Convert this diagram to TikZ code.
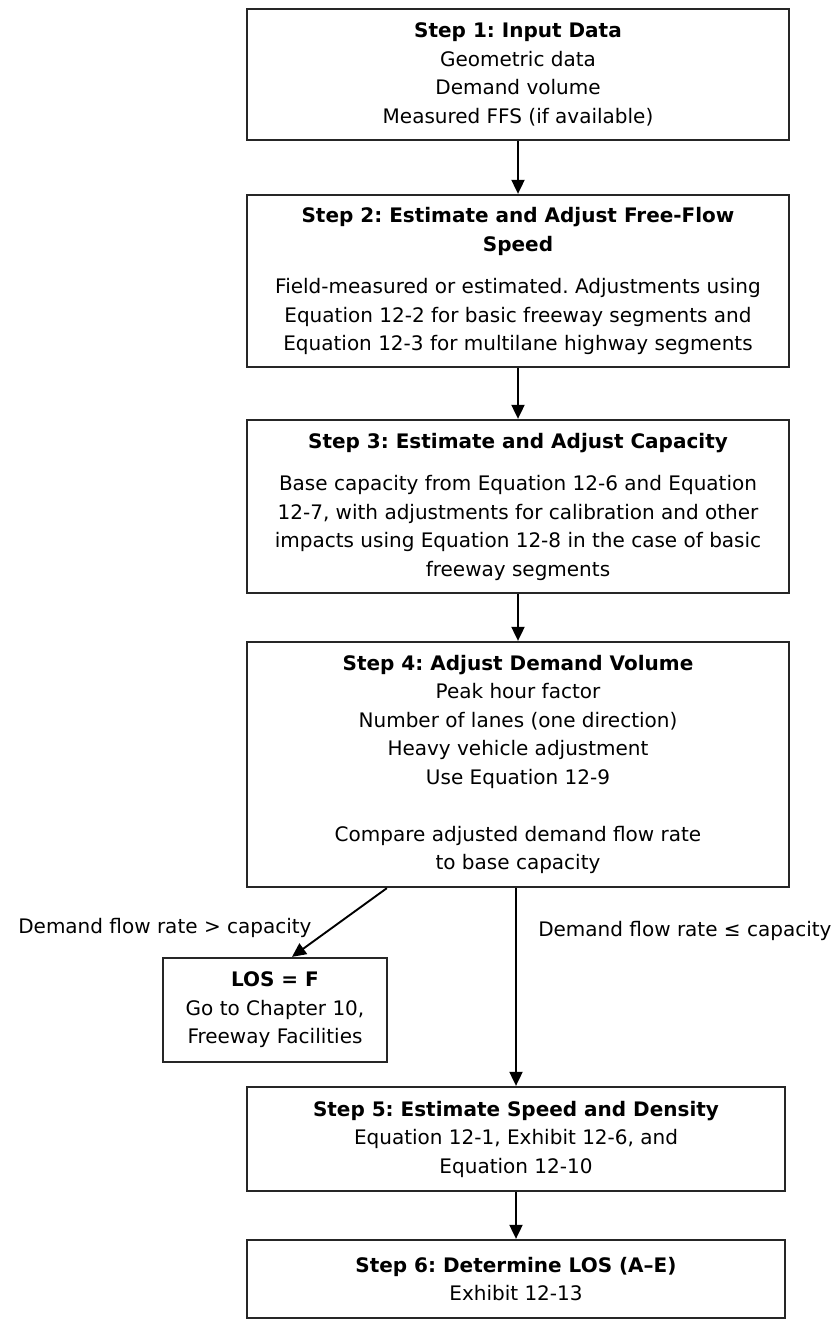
\documentclass[tikz,border=0pt]{standalone}
\usepackage{fontspec}
\setmainfont{DejaVu Sans}
\usetikzlibrary{shapes,arrows,arrows.meta,positioning,calc}
\frenchspacing

\begin{document}
\begin{tikzpicture}[
    x=1pt, y=-1pt,
    >={Triangle[length=14pt,width=13pt]},
    every node/.style={font=\fontsize{20pt}{28.5pt}\selectfont, text=black},
    stepbox/.style={rectangle, draw=black!85, line width=2.3pt, minimum width=542pt, align=center, inner sep=0pt},
    losbox/.style={rectangle, draw=black!85, line width=2.3pt, minimum width=224pt, minimum height=104pt, align=center, inner sep=0pt},
    flow/.style={->, line width=1.9pt}
]
    \useasboundingbox (0,0) rectangle (836,1320);

    % Steps
    \node[stepbox, minimum height=131pt] (input) at (518,74.5) {\textbf{Step 1: Input Data}\\Geometric data\\Demand volume\\Measured FFS (if available)};
    \node[stepbox, minimum height=172pt] (ffs) at (518,281) {\textbf{Step 2: Estimate and Adjust Free-Flow}\\\textbf{Speed}\\[14pt]Field-measured or estimated. Adjustments using\\Equation 12-2 for basic freeway segments and\\Equation 12-3 for multilane highway segments};
    \node[stepbox, minimum height=173pt] (cap) at (518,506.5) {\textbf{Step 3: Estimate and Adjust Capacity}\\[14pt]Base capacity from Equation 12-6 and Equation\\12-7, with adjustments for calibration and other\\impacts using Equation 12-8 in the case of basic\\freeway segments};
    \node[stepbox, minimum height=245pt] (demand) at (518,764.5) {\textbf{Step 4: Adjust Demand Volume}\\Peak hour factor\\Number of lanes (one direction)\\Heavy vehicle adjustment\\Use Equation 12-9\\[28.5pt]Compare adjusted demand flow rate\\to base capacity};

    \node[losbox] (losf) at (275,1010) {\textbf{LOS = F}\\Go to Chapter 10,\\Freeway Facilities};

    \node[stepbox, minimum width=538pt, minimum height=104pt] (speed) at (516,1139) {\textbf{Step 5: Estimate Speed and Density}\\Equation 12-1, Exhibit 12-6, and\\Equation 12-10};
    \node[stepbox, minimum width=538pt, minimum height=78pt] (los) at (516,1279) {\textbf{Step 6: Determine LOS (A--E)}\\Exhibit 12-13};

    % Arrows
    \draw[flow] (input) -- (ffs);
    \draw[flow] (ffs) -- (cap);
    \draw[flow] (cap) -- (demand);
    \draw[flow] ($(demand.south west)+(141,0)$) -- node[pos=.58, left=16pt] {Demand flow rate > capacity} ($(losf.north)+(17,0)$);
    \draw[flow] (demand.south -| speed.north) -- node[pos=.215, right=18pt] {Demand flow rate ≤ capacity} (speed.north);
    \draw[flow] (speed) -- (los);

\end{tikzpicture}
\end{document}
